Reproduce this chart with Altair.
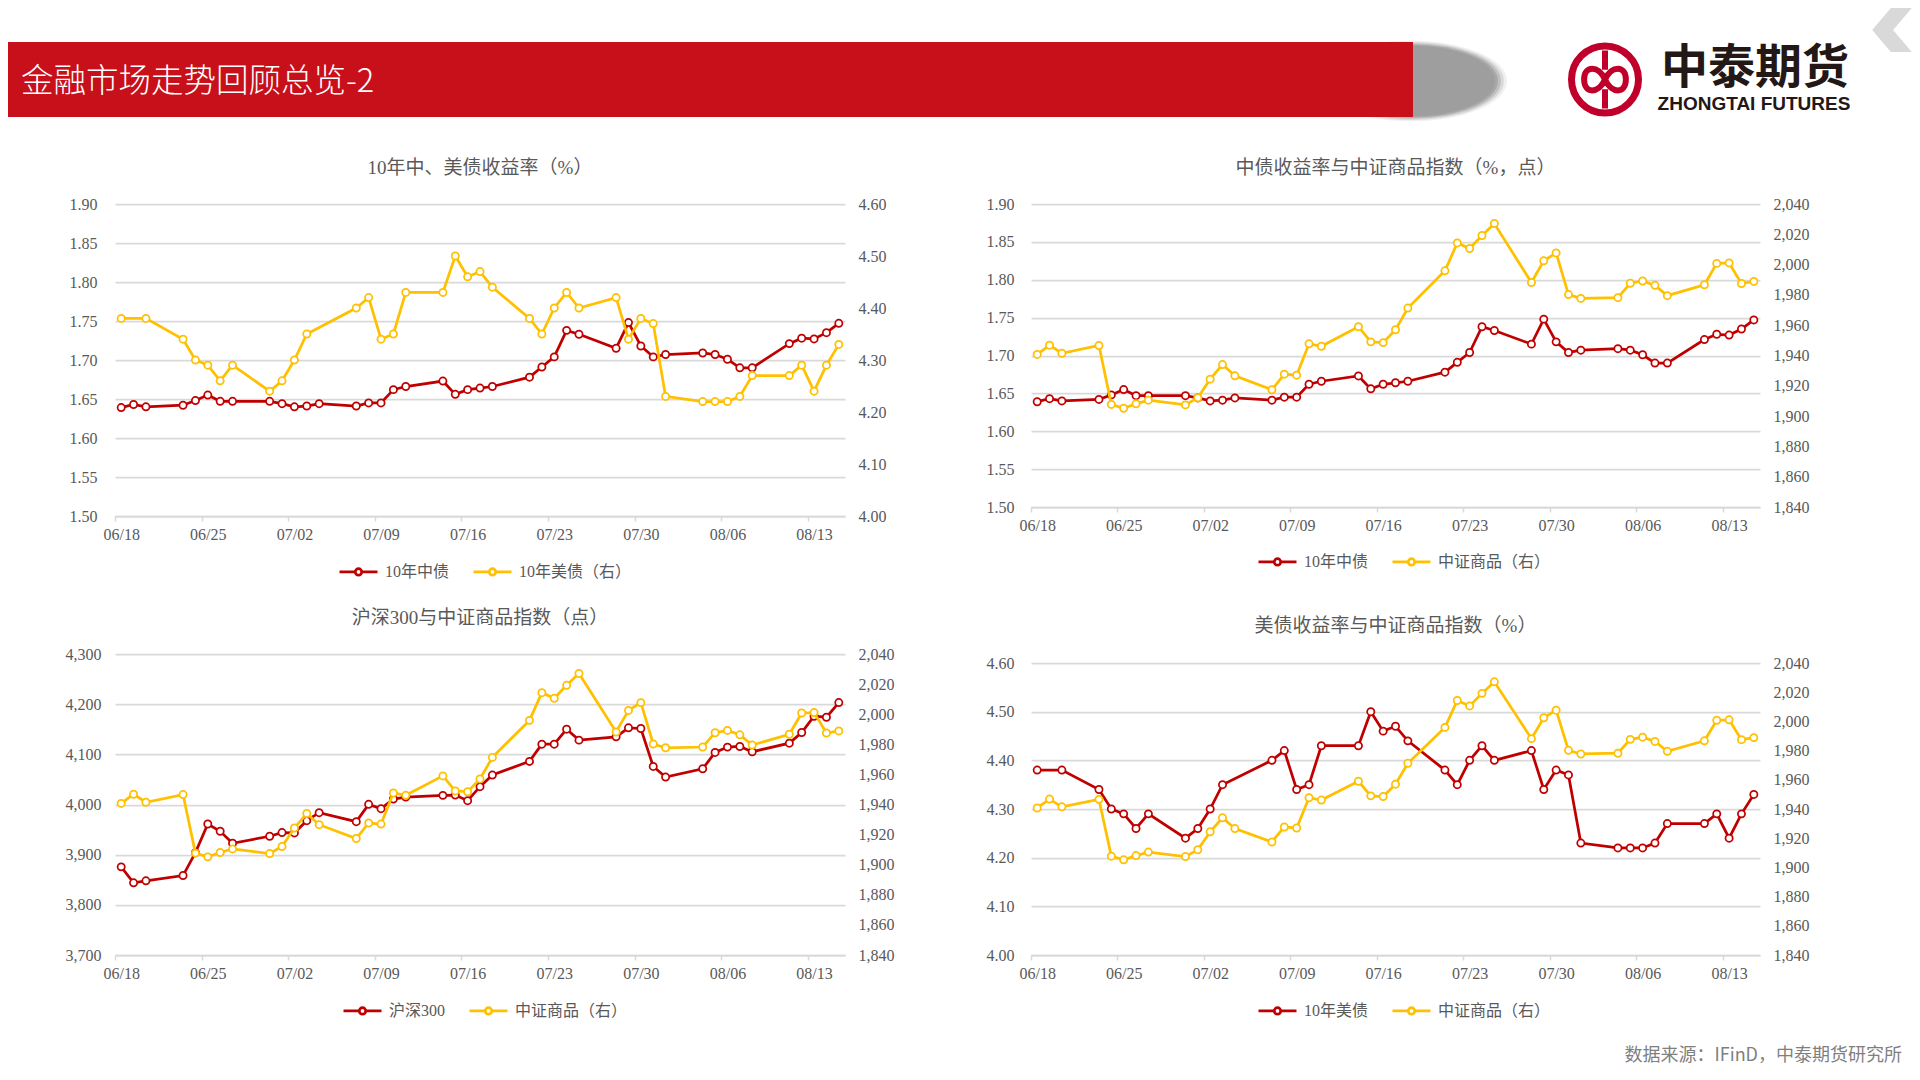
import altair as alt
import pandas as pd

# ---------------- data ----------------
dates_cn = ["06-18", "06-19", "06-20", "06-23", "06-24", "06-25", "06-26", "06-27", "06-30",
            "07-01", "07-02", "07-03", "07-04", "07-07", "07-08", "07-09", "07-10", "07-11",
            "07-14", "07-15", "07-16", "07-17", "07-18", "07-21", "07-22", "07-23", "07-24",
            "07-25", "07-28", "07-29", "07-30", "07-31", "08-01", "08-04", "08-05", "08-06",
            "08-07", "08-08", "08-11", "08-12", "08-13", "08-14", "08-15"]
dates_us = ["06-18", "06-20", "06-23", "06-24", "06-25", "06-26", "06-27", "06-30",
            "07-01", "07-02", "07-03", "07-07", "07-08", "07-09", "07-10", "07-11",
            "07-14", "07-15", "07-16", "07-17", "07-18", "07-21", "07-22", "07-23", "07-24",
            "07-25", "07-28", "07-29", "07-30", "07-31", "08-01", "08-04", "08-05", "08-06",
            "08-07", "08-08", "08-11", "08-12", "08-13", "08-14", "08-15"]

cn10y = [1.639, 1.643, 1.640, 1.642, 1.648, 1.655, 1.647, 1.647, 1.647,
         1.644, 1.640, 1.641, 1.644, 1.641, 1.645, 1.645, 1.662, 1.666,
         1.673, 1.656, 1.662, 1.664, 1.666, 1.678, 1.691, 1.704, 1.738,
         1.733, 1.715, 1.748, 1.718, 1.704, 1.707, 1.709, 1.707, 1.701,
         1.690, 1.690, 1.721, 1.728, 1.727, 1.735, 1.747]
us10y = [4.38, 4.38, 4.34, 4.30, 4.29, 4.26, 4.29, 4.24,
         4.26, 4.30, 4.35, 4.40, 4.42, 4.34, 4.35, 4.43,
         4.43, 4.50, 4.46, 4.47, 4.44, 4.38, 4.35, 4.40, 4.43,
         4.40, 4.42, 4.34, 4.38, 4.37, 4.23, 4.22, 4.22, 4.22,
         4.23, 4.27, 4.27, 4.29, 4.24, 4.29, 4.33]
commodity = [1940.7, 1946.8, 1941.5, 1946.6, 1907.7, 1905.2, 1908.1, 1910.5, 1907.4,
             1912.1, 1924.4, 1934.0, 1926.6, 1917.4, 1927.7, 1927.0, 1947.7, 1946.1,
             1959.0, 1949.0, 1948.5, 1957.0, 1971.3, 1995.9, 2014.3, 2010.6, 2019.2,
             2027.1, 1988.2, 2002.5, 2007.7, 1980.2, 1977.7, 1978.2, 1987.7, 1989.2,
             1986.3, 1979.5, 1986.7, 2000.8, 2001.1, 1987.5, 1988.9]
hs300 = [3875.7, 3843.9, 3847.8, 3858.4, 3904.0, 3961.2, 3946.6, 3922.8, 3936.7,
         3944.0, 3943.3, 3967.8, 3983.7, 3965.8, 4000.3, 3991.7, 4010.9, 4014.9,
         4018.2, 4018.9, 4007.6, 4035.5, 4058.7, 4085.9, 4120.3, 4120.3, 4150.2,
         4128.3, 4134.9, 4152.8, 4151.5, 4075.9, 4054.7, 4071.3, 4103.8, 4114.4,
         4115.7, 4105.1, 4122.3, 4143.5, 4176.0, 4174.0, 4203.2]

tick_labels = ["06/18", "06/25", "07/02", "07/09", "07/16", "07/23", "07/30", "08/06", "08/13"]
yield_cn_ticks = [1.50, 1.55, 1.60, 1.65, 1.70, 1.75, 1.80, 1.85, 1.90]
yield_us_ticks = [4.00, 4.10, 4.20, 4.30, 4.40, 4.50, 4.60]
commodity_ticks = [1840, 1860, 1880, 1900, 1920, 1940, 1960, 1980, 2000, 2020, 2040]
hs300_ticks = [3700, 3800, 3900, 4000, 4100, 4200, 4300]

titles = ["10年中、美债收益率（%）", "中债收益率与中证商品指数（%，点）",
          "沪深300与中证商品指数（点）", "美债收益率与中证商品指数（%）"]
header_title = "金融市场走势回顾总览-2"
footer_text = "数据来源：IFinD，中泰期货研究所"

# ---------------- styles ----------------
RED = "#C00000"
YELLOW = "#FFC000"
GRID = "#D9D9D9"
TEXT = "#595959"
BANNER = "#C8101B"
LOGO = "#C0002B"
FONT = "'Liberation Serif', 'Noto Sans CJK SC', serif"
SANS = "'Noto Sans CJK SC', sans-serif"
AXFS = 16

LEG_SYM = ("M-1,0 L-0.17,0 M0.17,0 L1,0 "
           "M-0.17,0 A0.17,0.17 0 1,1 0.17,0 A0.17,0.17 0 1,1 -0.17,0 Z")
ELL = "M-1,0 A1,0.42 0 1,1 1,0 A1,0.42 0 1,1 -1,0 Z"
CHEVRON = "M-0.9,0 L-0.05,-1 L0.9,-1 L0.05,0 L0.9,1 L-0.05,1 Z"
INNER = ("M0,-1 L0,-0.34 M0,0.34 L0,1 "
         "M0,0 C-0.22,-0.5 -0.72,-0.5 -0.72,0 C-0.72,0.5 -0.22,0.5 0,0 "
         "C0.22,-0.5 0.72,-0.5 0.72,0 C0.72,0.5 0.22,0.5 0,0")

X_TICKS = [alt.DateTime(year=2025, month=int(t[:2]), date=int(t[3:]), utc=True) for t in tick_labels]
X_DOMAIN = [alt.DateTime(year=2025, month=6, date=17, hours=12, utc=True),
            alt.DateTime(year=2025, month=8, date=15, hours=12, utc=True)]
NDAYS = 59

dummy = pd.DataFrame({"k": [0]})


def frame(dates, values, name):
    return pd.DataFrame({"date": ["2025-" + d for d in dates], "value": values, "series": name})


def xenc(width):
    half = width / NDAYS / 2
    return alt.X("date:T", title=None,
                 scale=alt.Scale(type="utc", domain=X_DOMAIN),
                 axis=alt.Axis(values=X_TICKS, format="%m/%d", labelFont=FONT, labelFontSize=AXFS,
                               labelColor=TEXT, labelPadding=5, labelFlush=False, labelOverlap=False,
                               tickOffset=-half, labelOffset=half, tickSize=5, tickColor=GRID,
                               tickWidth=1.5, domainColor=GRID, domainWidth=1.75, grid=False))


def yenc(dom, vals, fmt, orient, pad, grid):
    return alt.Y("value:Q", title=None,
                 scale=alt.Scale(domain=dom, nice=False, zero=False),
                 axis=alt.Axis(orient=orient, values=vals, format=fmt, grid=grid, gridColor=GRID,
                               gridWidth=1.75, domain=False, ticks=False, tickSize=0,
                               labelPadding=pad, labelFont=FONT, labelFontSize=AXFS, labelColor=TEXT))


def legend(lx, ly):
    return alt.Legend(orient="none", legendX=lx, legendY=ly, direction="horizontal", title=None,
                      symbolType=LEG_SYM, symbolSize=1444, symbolStrokeWidth=2.75,
                      symbolFillColor="white", labelFont=FONT, labelFontSize=16, labelColor=TEXT,
                      labelOffset=6, columnPadding=18, labelLimit=400)


def panel(ldf, rdf, names, ldom, lvals, lfmt, lpad, rdom, rvals, rfmt, rpad,
          w, h, title, ty, lx, ly, extras=()):
    color = alt.Color("series:N", scale=alt.Scale(domain=names, range=[RED, YELLOW]),
                      legend=legend(lx, ly))
    pt = alt.OverlayMarkDef(filled=False, fill="white", size=52, strokeWidth=1.75)
    left = alt.Chart(ldf).mark_line(strokeWidth=2.75, point=pt).encode(
        x=xenc(w), y=yenc(ldom, lvals, lfmt, "left", lpad, True), color=color)
    right = alt.Chart(rdf).mark_line(strokeWidth=2.75, point=pt).encode(
        x=xenc(w), y=yenc(rdom, rvals, rfmt, "right", rpad, False), color=color)
    ttl = alt.Chart(dummy).mark_text(text=title, font=FONT, fontSize=19, color=TEXT,
                                     align="center", baseline="middle").encode(
        x=alt.value(w / 2), y=alt.value(ty))
    return alt.layer(left, right, ttl, *extras).resolve_scale(y="independent").properties(
        width=w, height=h)


def shadow(size, col):
    return alt.Chart(dummy).mark_point(shape=ELL, filled=True, color=col, opacity=1,
                                       size=size ** 2, strokeWidth=0).encode(
        x=alt.value(1296), y=alt.value(-123))


# header decorations (positioned relative to the first panel's plot origin)
hdr = [
    shadow(192, "#F0F0F0"), shadow(186, "#DADADA"), shadow(180, "#C0C0C0"),
    shadow(174, "#A8A8A8"), shadow(168, "#9E9E9E"),
    alt.Chart(dummy).mark_rect(color=BANNER).encode(
        x=alt.value(-107), x2=alt.value(1298), y=alt.value(-162), y2=alt.value(-87)),
    alt.Chart(dummy).mark_text(text=header_title, font=SANS, fontSize=32.5, fontWeight=300,
                               color="white", align="left", baseline="middle").encode(
        x=alt.value(-94), y=alt.value(-122)),
    alt.Chart(dummy).mark_point(shape="circle", filled=False, stroke=LOGO, strokeWidth=7,
                                size=67 ** 2, opacity=1).encode(
        x=alt.value(1490), y=alt.value(-124.5)),
    alt.Chart(dummy).mark_point(shape=INNER, filled=False, stroke=LOGO, strokeWidth=6,
                                size=58 ** 2, opacity=1).encode(
        x=alt.value(1490), y=alt.value(-124.5)),
    alt.Chart(dummy).mark_text(text="中泰期货", font=SANS, fontSize=47, fontWeight="bold",
                               color="#231815", align="center", baseline="middle").encode(
        x=alt.value(1640), y=alt.value(-135)),
    alt.Chart(dummy).mark_text(text="ZHONGTAI FUTURES", font="'Liberation Sans', Arial, sans-serif",
                               fontSize=19, fontWeight="bold", color="#231815",
                               align="center", baseline="middle").encode(
        x=alt.value(1639), y=alt.value(-100)),
    alt.Chart(dummy).mark_point(shape=CHEVRON, filled=True, color="#D9D9D9", opacity=1,
                                size=44 ** 2, strokeWidth=0).encode(
        x=alt.value(1777), y=alt.value(-174)),
]

ftr = [
    alt.Chart(dummy).mark_text(text=footer_text, font=SANS, fontSize=18, color="#7F7F7F",
                               align="right", baseline="middle").encode(
        x=alt.value(871), y=alt.value(402)),
]

c1 = panel(frame(dates_cn, cn10y, "10年中债"), frame(dates_us, us10y, "10年美债（右）"),
           ["10年中债", "10年美债（右）"],
           [1.5, 1.9], yield_cn_ticks, ".2f", 18,
           [4.0, 4.6], yield_us_ticks, ".2f", 13,
           730, 312, titles[0], -36, 223, 347, hdr)
c2 = panel(frame(dates_cn, cn10y, "10年中债"), frame(dates_cn, commodity, "中证商品（右）"),
           ["10年中债", "中证商品（右）"],
           [1.5, 1.9], yield_cn_ticks, ".2f", 17,
           [1840, 2040], commodity_ticks, ",.0f", 13,
           729, 303, titles[1], -36, 226, 337)
c3 = panel(frame(dates_cn, hs300, "沪深300"), frame(dates_cn, commodity, "中证商品（右）"),
           ["沪深300", "中证商品（右）"],
           [3700, 4300], hs300_ticks, ",.0f", 14,
           [1840, 2040], commodity_ticks, ",.0f", 13,
           730, 301, titles[2], -36.5, 227, 336)
# chart 4's plot is 292px tall but bottom-aligned with chart 3: extend the domains above the top tick
ext = 301 / 292
c4 = panel(frame(dates_us, us10y, "10年美债"), frame(dates_cn, commodity, "中证商品（右）"),
           ["10年美债", "中证商品（右）"],
           [4.0, 4.0 + 0.6 * ext], yield_us_ticks, ".2f", 17,
           [1840, 1840 + 200 * ext], commodity_ticks, ",.0f", 13,
           729, 301, titles[3], -28, 226, 336, ftr)

chart = alt.concat(c1, c2, c3, c4, columns=2, spacing={"row": 138, "column": 186},
                   bounds="flush", align="each").resolve_scale(color="independent").properties(
    padding={"left": 0, "top": 0, "right": 0, "bottom": 10},
    background="white").configure_view(stroke=None)

chart.save("out.html", embed_options={"renderer": "svg", "actions": False})
